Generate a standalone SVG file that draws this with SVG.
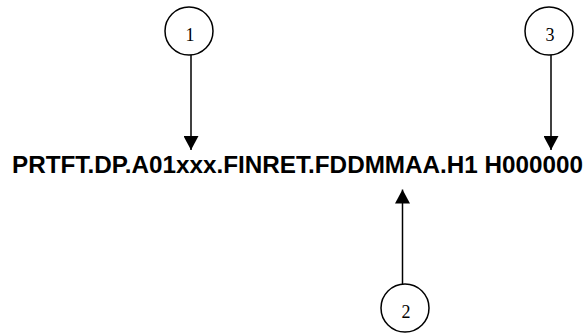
<svg xmlns="http://www.w3.org/2000/svg" width="585" height="333" viewBox="0 0 585 333">
<style>
.c{fill:none;stroke:#000;stroke-width:1.5}
.n{font-family:"Liberation Serif","Times New Roman",serif;font-size:18px;fill:#000;text-anchor:middle}
.l{stroke:#000;stroke-width:1.5;fill:none}
.t{font-family:"Liberation Sans",Arial,sans-serif;font-weight:bold;font-size:24px;fill:#000}
</style>
<defs>
<marker id="ah" viewBox="0 0 14 15" refX="14" refY="7.5" markerWidth="14" markerHeight="15" markerUnits="userSpaceOnUse" orient="auto">
<path d="M0,0 L14,7.5 L0,15 Z" fill="#000"/>
</marker>
</defs>
<rect width="585" height="333" fill="#fff"/>
<g id="label">
<text class="t" x="12" y="172.5" textLength="571" lengthAdjust="spacingAndGlyphs">PRTFT.DP.A01xxx.FINRET.FDDMMAA.H1 H000000</text>
</g>
<g id="node1">
<circle class="c" cx="189" cy="31" r="24"/>
<text class="n" x="190" y="41">1</text>
</g>
<g id="node2">
<circle class="c" cx="405" cy="308" r="24"/>
<text class="n" x="406" y="318">2</text>
</g>
<g id="node3">
<circle class="c" cx="549" cy="31" r="24"/>
<text class="n" x="550" y="41">3</text>
</g>
<g id="connectors">
<line class="l" x1="191" y1="55" x2="191" y2="150" marker-end="url(#ah)"/>
<line class="l" x1="551" y1="55" x2="551" y2="150" marker-end="url(#ah)"/>
<line class="l" x1="402.5" y1="284" x2="402.5" y2="189.5" marker-end="url(#ah)"/>
</g>
</svg>
